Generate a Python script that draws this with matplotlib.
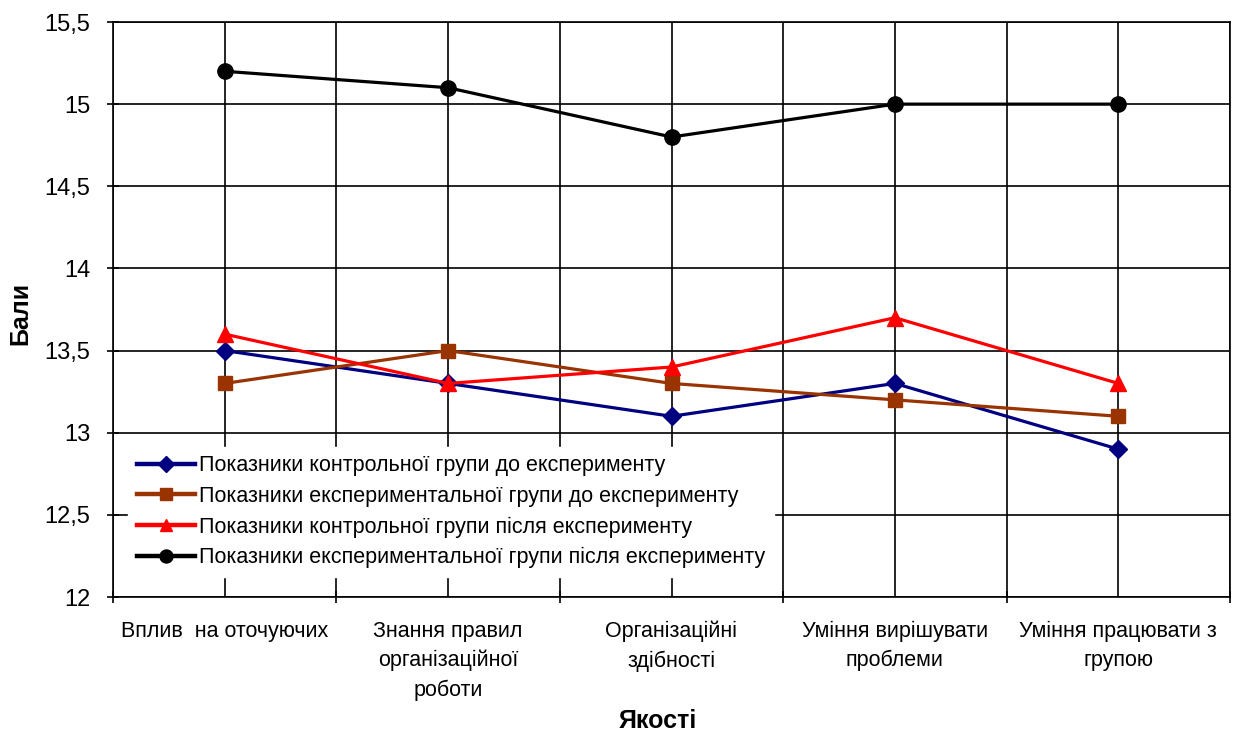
import matplotlib
matplotlib.use("Agg")
import matplotlib.pyplot as plt
import numpy as np

plt.rcParams['font.family'] = ['Liberation Sans', 'DejaVu Sans']

categories = ["Вплив  на оточуючих", "Знання правил\nорганізаційної\nроботи",
              "Організаційні\nздібності", "Уміння вирішувати\nпроблеми",
              "Уміння працювати з\nгрупою"]
control_before = [13.5, 13.3, 13.1, 13.3, 12.9]
exper_before = [13.3, 13.5, 13.3, 13.2, 13.1]
control_after = [13.6, 13.3, 13.4, 13.7, 13.3]
exper_after = [15.2, 15.1, 14.8, 15.0, 15.0]
y_ticks = [12, 12.5, 13, 13.5, 14, 14.5, 15, 15.5]
y_tick_labels = ["12", "12,5", "13", "13,5", "14", "14,5", "15", "15,5"]
series_labels = ["Показники контрольної групи до експерименту",
                 "Показники експериментальної групи до експерименту",
                 "Показники контрольної групи після експерименту",
                 "Показники експериментальної групи після експерименту"]

fig = plt.figure(figsize=(12.33, 7.35), dpi=100)
ax = fig.add_axes([113 / 1233, 1 - 597 / 735, 1117 / 1233, 575 / 735])

x = np.arange(len(categories))
ax.plot(x, control_before, color="#000080", lw=2.3, marker="D", ms=9, label=series_labels[0], zorder=3)
ax.plot(x, exper_before, color="#993300", lw=2.3, marker="s", ms=10, label=series_labels[1], zorder=3)
ax.plot(x, control_after, color="#ff0000", lw=2.3, marker="^", ms=11, label=series_labels[2], zorder=3)
ax.plot(x, exper_after, color="#000000", lw=2.3, marker="o", ms=11, label=series_labels[3], zorder=3)

ax.set_xlim(-0.5, len(categories) - 0.5)
ax.set_ylim(12, 15.5)
ax.set_xticks(x)
ax.set_xticklabels(categories, fontsize=15.5, linespacing=1.5)
ax.set_xticks(np.arange(-0.5, len(categories), 1.0), minor=True)
ax.tick_params(axis="x", which="major", length=0, pad=17)
ax.tick_params(axis="x", which="minor", length=9, width=1.2, direction="inout")
ax.set_yticks(y_ticks)
ax.set_yticklabels(y_tick_labels, fontsize=17)
ax.tick_params(axis="y", length=9, width=1.2, direction="inout", pad=12)

ax.grid(True, which="both", axis="x", color="black", lw=1.2)
ax.grid(True, which="major", axis="y", color="black", lw=1.2)
ax.set_axisbelow(True)
for s in ax.spines.values():
    s.set_linewidth(1.2)

ax.set_ylabel("Бали", fontsize=18, fontweight="bold")
ax.yaxis.set_label_coords(-0.072, 0.494)
ax.set_xlabel("Якості", fontsize=18, fontweight="bold")
ax.xaxis.set_label_coords(0.488, -0.195)

leg = ax.legend(loc="lower left", bbox_to_anchor=(0.004, 0.016), frameon=True,
                fontsize=15.5, handlelength=2.7, handletextpad=0.2, labelspacing=0.45,
                borderpad=0.4, fancybox=False, markerscale=0.85)
leg.get_frame().set_edgecolor("white")
leg.get_frame().set_facecolor("white")
leg.get_frame().set_alpha(1)
for h in leg.get_lines():
    h.set_linewidth(3.2)

fig.savefig("out.png", dpi=100)
